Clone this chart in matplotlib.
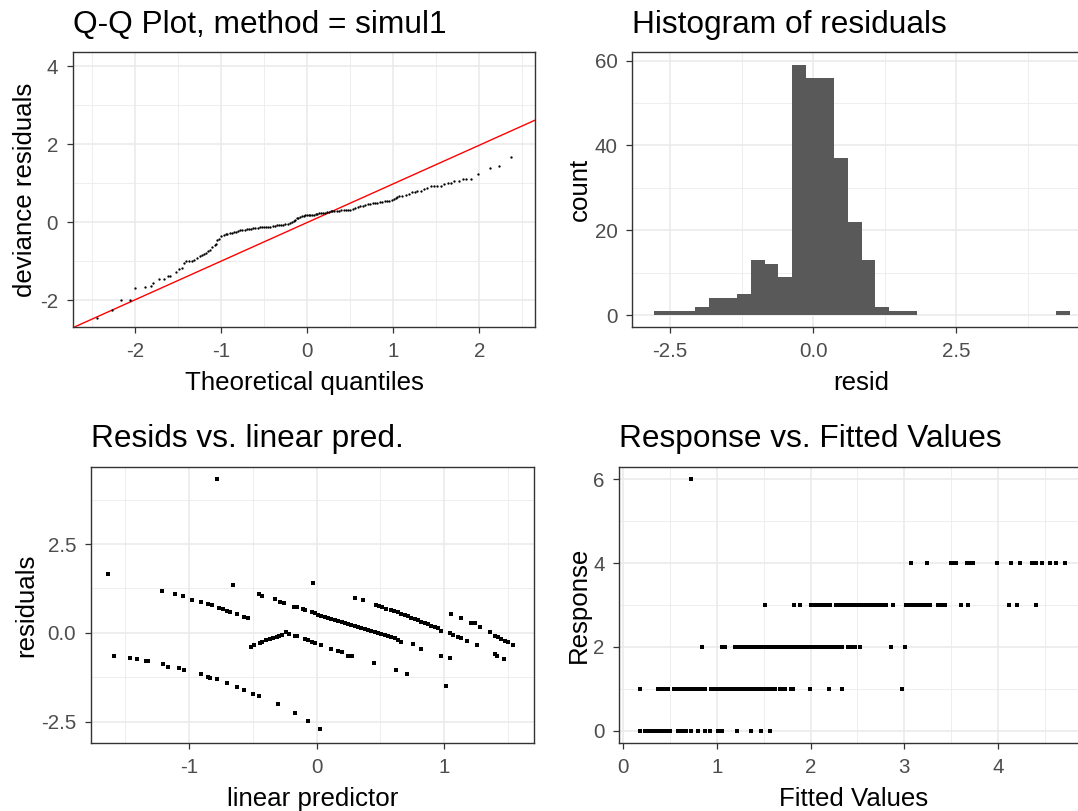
import matplotlib
matplotlib.use("Agg")
import matplotlib.pyplot as plt
import numpy as np

plt.rcParams['font.family'] = ['Liberation Sans', 'DejaVu Sans']
plt.rcParams['axes.unicode_minus'] = False

# ---------------- data ----------------
# Q-Q plot: theoretical quantiles vs deviance residuals
qq_theoretical = [
    -2.450, -2.277, -2.169, -2.062, -2.008, -1.885, -1.815, -1.800, -1.731, -1.669,
    -1.623, -1.600, -1.523, -1.488, -1.462, -1.431, -1.408, -1.373, -1.346, -1.315,
    -1.285, -1.254, -1.231, -1.200, -1.181, -1.154, -1.131, -1.104, -1.077, -1.062,
    -1.046, -1.023, -1.000,
    -0.970, -0.950, -0.930, -0.905, -0.880, -0.855, -0.830, -0.805, -0.780, -0.755,
    -0.730, -0.705, -0.680, -0.655, -0.630, -0.605, -0.580, -0.555, -0.530, -0.505,
    -0.480, -0.455, -0.430, -0.405, -0.380, -0.355, -0.330, -0.305, -0.280, -0.255,
    -0.230, -0.205, -0.180, -0.160, -0.140, -0.125, -0.105, -0.086, -0.065, -0.045,
    -0.027, -0.005, 0.015, 0.035, 0.055, 0.075, 0.095, 0.115, 0.135, 0.155,
    0.180, 0.205, 0.226, 0.250, 0.270, 0.290, 0.315, 0.343, 0.370, 0.395,
    0.421, 0.445, 0.470, 0.499, 0.525, 0.558, 0.585, 0.616, 0.645, 0.674,
    0.700, 0.733, 0.760, 0.785, 0.811, 0.840, 0.869, 0.900, 0.928, 0.955,
    0.986, 1.010, 1.025, 1.045, 1.064, 1.100, 1.142, 1.181, 1.220, 1.250,
    1.271, 1.318, 1.357, 1.396, 1.435, 1.474, 1.513, 1.552, 1.591, 1.630,
    1.669, 1.708, 1.766, 1.805, 1.844, 1.903, 1.981, 2.129, 2.234, 2.363,
]
qq_residuals = [
    -2.458, -2.244, -1.996, -1.996, -1.704, -1.670, -1.653, -1.567, -1.473, -1.473,
    -1.388, -1.379, -1.285, -1.199, -1.173, -1.054, -1.002, -1.002, -1.002, -0.968,
    -0.925, -0.882, -0.857, -0.831, -0.797, -0.745, -0.728, -0.642, -0.600, -0.557,
    -0.471, -0.428, -0.368,
    -0.343, -0.320, -0.300, -0.290, -0.270, -0.257, -0.245, -0.231, -0.215, -0.205,
    -0.197, -0.190, -0.180, -0.171, -0.165, -0.155, -0.146, -0.140, -0.135, -0.128,
    -0.125, -0.122, -0.120, -0.110, -0.100, -0.086, -0.080, -0.075, -0.069, -0.060,
    -0.050, -0.020, 0.010, 0.030, 0.043, 0.094, 0.110, 0.128, 0.150, 0.165,
    0.171, 0.175, 0.178, 0.180, 0.185, 0.190, 0.197, 0.210, 0.225, 0.231,
    0.235, 0.240, 0.248, 0.260, 0.270, 0.274, 0.282, 0.291, 0.295, 0.298,
    0.300, 0.305, 0.310, 0.317, 0.330, 0.351, 0.375, 0.403, 0.420, 0.437,
    0.455, 0.471, 0.480, 0.490, 0.497, 0.510, 0.522, 0.532, 0.540, 0.548,
    0.557, 0.600, 0.625, 0.650, 0.668, 0.675, 0.685, 0.711, 0.771, 0.780,
    0.788, 0.797, 0.839, 0.882, 0.917, 0.925, 0.925, 0.925, 0.968, 0.994,
    1.011, 1.054, 1.054, 1.096, 1.096, 1.096, 1.242, 1.379, 1.430, 1.670,
]
qq_ref_intercept = -0.01
qq_ref_slope = 0.99

# Histogram of residuals: 30 bins
hist_start = -2.789
hist_binwidth = 0.2424
hist_counts = [1, 1, 1, 2, 4, 4, 5, 13, 12, 9,
               59, 56, 56, 37, 22, 13, 2, 1, 1, 0,
               0, 0, 0, 0, 0, 0, 0, 0, 0, 1]

# Residuals vs linear predictor
lp_values = [
    -1.637, -0.782, -1.592, -0.653, -0.024,
    -1.208, -1.108, -1.047, -0.979, -0.908, -0.850, -0.821, -0.763, -0.737, -0.705,
    -0.676, -0.624, -0.566, -0.537,
    -1.463, -1.405, -1.337, -1.318, -1.203, -1.163, -1.076, -1.039, -0.905, -0.850,
    -0.834, -0.779, -0.705, -0.624, -0.566, -0.497, -0.453, -0.303, -0.166, -0.066,
    0.026,
    -0.513, -0.492, -0.442, -0.426, -0.395, -0.368, -0.339, -0.313, -0.295, -0.271,
    -0.237, -0.216, -0.171, -0.150, -0.092, -0.066, -0.039, -0.013,
    0.034, 0.112, 0.170, 0.196, 0.248, 0.279, 0.452, 0.621, 0.710,
    -0.453, -0.429, -0.324, -0.289, -0.253, -0.176, -0.150, -0.105, -0.092, -0.039,
    -0.013,
    0.013, 0.039, 0.065, 0.091, 0.117, 0.144, 0.170, 0.196, 0.222, 0.248,
    0.274, 0.300, 0.326, 0.352, 0.379, 0.405, 0.431, 0.457, 0.483, 0.509,
    0.535, 0.561, 0.587, 0.614, 0.640, 0.666,
    0.300, 0.368, 0.465, 0.491, 0.517, 0.548, 0.582, 0.608, 0.640, 0.666,
    0.692, 0.718, 0.744, 0.770, 0.796, 0.822, 0.849, 0.875, 0.901, 0.927,
    0.953, 0.979, 1.044, 1.070, 1.110, 1.136, 1.180, 1.261,
    1.057, 1.131, 1.214, 1.240, 1.279, 1.358, 1.397, 1.423, 1.449, 1.475,
    1.501, 1.540,
    0.757, 0.820, 0.979, 1.050, 1.018, 1.402, 1.418, 1.470,
]
resid_values = [
    1.648, 4.343, -0.643, 1.338, 1.394,
    1.188, 1.085, 1.038, 0.934, 0.878, 0.822, 0.775, 0.690, 0.671, 0.624,
    0.577, 0.530, 0.436, 0.427,
    -0.700, -0.746, -0.793, -0.803, -0.887, -0.953, -1.000, -1.056, -1.150, -1.254,
    -1.263, -1.310, -1.404, -1.516, -1.610, -1.714, -1.770, -2.014, -2.268, -2.484,
    -2.718,
    -0.390, -0.343, -0.277, -0.249, -0.211, -0.183, -0.146, -0.117, -0.089, -0.061,
    0.014, -0.033, -0.080, -0.089, -0.183, -0.211, -0.258, -0.277,
    -0.343, -0.446, -0.512, -0.549, -0.643, -0.643, -0.840, -1.047, -1.150,
    1.094, 1.028, 0.944, 0.878, 0.831, 0.737, 0.718, 0.662, 0.643, 0.577,
    0.549,
    0.502, 0.474, 0.446, 0.418, 0.390, 0.362, 0.324, 0.296, 0.268, 0.239,
    0.211, 0.183, 0.155, 0.127, 0.099, 0.070, 0.042, 0.014, -0.014, -0.042,
    -0.070, -0.099, -0.127, -0.155, -0.202, -0.249,
    0.991, 0.935, 0.775, 0.756, 0.728, 0.681, 0.653, 0.624, 0.577, 0.540,
    0.502, 0.465, 0.427, 0.390, 0.352, 0.315, 0.277, 0.239, 0.202, 0.164,
    0.127, 0.061, -0.014, -0.061, -0.108, -0.136, -0.230, -0.352,
    0.531, 0.427, 0.286, 0.268, 0.174, 0.014, -0.080, -0.127, -0.174, -0.221,
    -0.268, -0.343,
    -0.324, -0.446, -0.653, -0.700, -1.507, -0.596, -0.643, -0.746,
]

# Response vs fitted values, grouped by observed response
fitted_resp0 = [0.18, 0.23, 0.25, 0.27, 0.29, 0.31, 0.33, 0.36, 0.38, 0.40, 0.42,
                0.44, 0.46, 0.48, 0.50, 0.59, 0.61, 0.63, 0.65, 0.67, 0.72, 0.80,
                0.87, 0.93, 1.01, 1.03, 1.06, 1.22, 1.36, 1.47, 1.57]
fitted_resp1 = [0.18, 0.37, 0.42, 0.45, 0.48, 0.54, 0.57, 0.59, 0.63, 0.66, 0.69,
                0.73, 0.75, 0.78, 0.80, 0.83, 0.87, 0.94, 0.97, 1.00, 1.04, 1.08,
                1.11, 1.13, 1.16, 1.18, 1.21, 1.23, 1.26, 1.28, 1.31, 1.33, 1.36,
                1.38, 1.41, 1.43, 1.46, 1.48, 1.51, 1.53, 1.56, 1.58, 1.62, 1.67,
                1.70, 1.73, 1.79, 1.81, 1.99, 2.20, 2.34, 2.98]
fitted_resp2 = [0.84, 1.06, 1.09, 1.19, 1.22, 1.25, 1.29, 1.32, 1.36, 1.39, 1.42,
                1.45, 1.48, 1.51, 1.54, 1.57, 1.60, 1.63, 1.66, 1.69, 1.72, 1.75,
                1.78, 1.81, 1.84, 1.87, 1.90, 1.93, 1.96, 1.99, 2.02, 2.05, 2.08,
                2.11, 2.14, 2.17, 2.20, 2.23, 2.26, 2.29, 2.32, 2.34, 2.40, 2.44,
                2.48, 2.53, 2.86, 3.01]
fitted_resp3 = [1.51, 1.82, 1.89, 2.00, 2.03, 2.06, 2.09, 2.12, 2.15, 2.18, 2.21,
                2.27, 2.30, 2.33, 2.36, 2.39, 2.42, 2.45, 2.48, 2.51, 2.54, 2.57,
                2.60, 2.63, 2.66, 2.69, 2.72, 2.75, 2.78, 2.81, 2.88, 3.02, 3.05,
                3.08, 3.11, 3.14, 3.17, 3.20, 3.24, 3.28, 3.36, 3.40, 3.43, 3.61,
                3.68, 4.12, 4.20, 4.41]
fitted_resp4 = [3.07, 3.24, 3.50, 3.53, 3.55, 3.67, 3.70, 3.73, 3.99, 4.14, 4.24,
                4.36, 4.39, 4.41, 4.47, 4.55, 4.62, 4.72]
fitted_resp6 = [0.72]

# ---------------- styling helpers ----------------
GRID = '#EBEBEB'
BORDER = '#333333'
TICKCOL = '#4D4D4D'
TICK_FS = 14.8
LAB_FS = 18.6
TITLE_FS = 22.8


def style_axes(ax, xlim, ylim, xmajor, xminor, ymajor, yminor,
               xlabels=None, ylabels=None):
    ax.set_xlim(xlim)
    ax.set_ylim(ylim)
    ax.set_xticks(xmajor)
    ax.set_xticks(xminor, minor=True)
    ax.set_yticks(ymajor)
    ax.set_yticks(yminor, minor=True)
    if xlabels is not None:
        ax.set_xticklabels(xlabels)
    if ylabels is not None:
        ax.set_yticklabels(ylabels)
    ax.grid(which='major', color=GRID, linewidth=1.2)
    ax.grid(which='minor', color=GRID, linewidth=0.6)
    ax.set_axisbelow(True)
    for sp in ax.spines.values():
        sp.set_color(BORDER)
        sp.set_linewidth(1.0)
    ax.tick_params(which='major', length=4.5, width=0.9, color=BORDER,
                   labelsize=TICK_FS, labelcolor=TICKCOL, pad=6)
    ax.tick_params(which='minor', length=0)


def titles(ax, title, xlabel, ylabel):
    ax.set_title(title, loc='left', fontsize=TITLE_FS, pad=14, color='black')
    ax.set_xlabel(xlabel, fontsize=LAB_FS, labelpad=7, color='black')
    ax.set_ylabel(ylabel, fontsize=LAB_FS, labelpad=2, color='black')


W, H = 1078, 811
fig = plt.figure(figsize=(W / 100, H / 100), dpi=100)


def place(left, right, top, bottom):
    return fig.add_axes([left / W, 1 - bottom / H, (right - left) / W, (bottom - top) / H])


ax_qq = place(72.7, 535.2, 52, 327.3)
ax_hist = place(632.4, 1090, 52, 327.3)
ax_res = place(90.7, 534.3, 466.7, 743.3)
ax_fit = place(619.3, 1087, 466.7, 743.3)

# Q-Q plot
style_axes(ax_qq, (-2.73, 2.65), (-2.70, 4.36),
           [-2, -1, 0, 1, 2], [-2.5, -1.5, -0.5, 0.5, 1.5, 2.5],
           [-2, 0, 2, 4], [-1, 1, 3])
ax_qq.axline((0, qq_ref_intercept), slope=qq_ref_slope, color='#FF0000', linewidth=1.0)
ax_qq.scatter(qq_theoretical, qq_residuals, s=2.8, c='black', linewidths=0, zorder=3)
titles(ax_qq, 'Q-Q Plot, method = simul1', 'Theoretical quantiles', 'deviance residuals')

# Histogram
edges = hist_start + hist_binwidth * np.arange(len(hist_counts) + 1)
style_axes(ax_hist, (-3.16, 4.84), (-2.9, 62.05),
           [-2.5, 0.0, 2.5], [-1.25, 1.25, 3.75],
           [0, 20, 40, 60], [10, 30, 50],
           xlabels=['-2.5', '0.0', '2.5'])
ax_hist.bar(edges[:-1], hist_counts, width=hist_binwidth, align='edge',
            color='#595959', linewidth=0, zorder=2)
titles(ax_hist, 'Histogram of residuals', 'resid', 'count')

# Residuals vs linear predictor
style_axes(ax_res, (-1.771, 1.708), (-3.11, 4.68),
           [-1, 0, 1], [-1.5, -0.5, 0.5, 1.5],
           [-2.5, 0.0, 2.5], [-1.25, 1.25, 3.75],
           ylabels=['-2.5', '0.0', '2.5'])
ax_res.scatter(lp_values, resid_values, s=8, c='black', marker='s', linewidths=0, zorder=3)
titles(ax_res, 'Resids vs. linear pred.', 'linear predictor', 'residuals')

# Response vs fitted values
fit_groups = [(0, fitted_resp0), (1, fitted_resp1), (2, fitted_resp2),
              (3, fitted_resp3), (4, fitted_resp4), (6, fitted_resp6)]
fit_x = np.concatenate([np.asarray(v, float) for _, v in fit_groups])
fit_y = np.concatenate([np.full(len(v), r, float) for r, v in fit_groups])
style_axes(ax_fit, (-0.04, 4.95), (-0.3, 6.3),
           [0, 1, 2, 3, 4], [0.5, 1.5, 2.5, 3.5, 4.5],
           [0, 2, 4, 6], [1, 3, 5])
ax_fit.scatter(fit_x, fit_y, s=8, c='black', marker='s', linewidths=0, zorder=3)
titles(ax_fit, 'Response vs. Fitted Values', 'Fitted Values', 'Response')

fig.savefig('out.png', dpi=100, facecolor='white')
